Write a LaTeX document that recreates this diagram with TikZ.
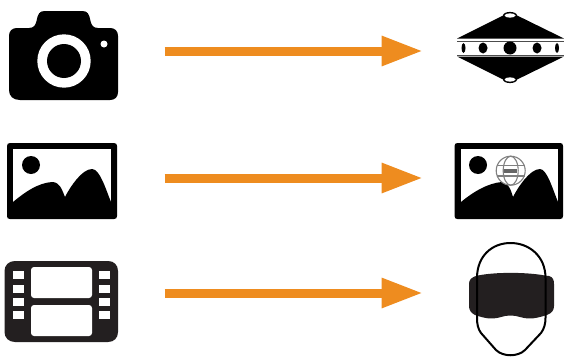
\documentclass[tikz,border=0pt]{standalone}
\usetikzlibrary{arrows.meta}
\definecolor{arrowc}{RGB}{238,140,31}
\definecolor{filmc}{RGB}{35,31,32}
\tikzset{
  flow/.style={draw=arrowc,line width=9pt,-{Triangle[length=41.5pt,width=28pt,fill=arrowc]}},
  ink/.style={fill=black,draw=none},
  paper/.style={fill=white,draw=none},
  perf/.style={fill=white,draw=none},
  globeline/.style={draw=black!50,line width=1.1pt}
}
\begin{document}
\begin{tikzpicture}[x=1pt,y=-1pt]
\useasboundingbox (0,0) rectangle (564,356);
% arrows
\coordinate (a1) at (164.5,51); \coordinate (b1) at (423,51);
\coordinate (a2) at (164.5,178); \coordinate (b2) at (423,178);
\coordinate (a3) at (164.5,293); \coordinate (b3) at (423,293);
\draw[flow] (a1) -- (b1);
\draw[flow] (a2) -- (b2);
\draw[flow] (a3) -- (b3);
% camera
\path[ink] (17,28) -- (29,28) .. controls (34,28) and (35.5,25) .. (36.5,21) .. controls (38,14) and (39,11) .. (45,11)
  -- (82,11) .. controls (88,11) and (89,14) .. (90.5,21) .. controls (91.5,25) and (93,28) .. (98,28) -- (110,28)
  .. controls (115,28) and (118,31) .. (118,36) -- (118,92) .. controls (118,97) and (115,100) .. (110,100)
  -- (20,100) .. controls (13,100) and (9,96) .. (9,90) -- (9,36) .. controls (9,31) and (12,28) .. (17,28) -- cycle;
\path[paper] (64,61) circle (26.7);
\path[ink] (64,61) circle (17);
\path[paper] (104,44) circle (3.5);
% saucer
\path[ink] (510,12) -- (564,38.5) -- (457,38.5) -- cycle;
\path[ink] (510,83) -- (564,56.5) -- (457,56.5) -- cycle;
\path[ink] (510,15.5) ellipse (7 and 3.6);
\path[ink] (510,79.5) ellipse (7 and 3.6);
\draw[black!70,line width=.6pt] (457,40.8) -- (564,40.8) (457,55) -- (564,55);
\path[paper] (510,15.5) ellipse (5.5 and 2.2);
\path[paper] (510,79.5) ellipse (5.5 and 2.2);
\path[ink] (463.5,48) ellipse (2 and 5);
\path[ink] (483,48) ellipse (4.5 and 5.5);
\path[ink] (510,48) ellipse (6.5 and 6.5);
\path[ink] (537,48) ellipse (4.5 and 5.5);
\path[ink] (557,48) ellipse (2 and 5);
% picture
\path[ink] (7,146) .. controls (7,144) and (8,143) .. (10,143) -- (114,143) .. controls (116,143) and (117,144) .. (117,146)
  -- (117,216) .. controls (117,218) and (116,219) .. (114,219) -- (10,219) .. controls (8,219) and (7,218) .. (7,216) -- cycle;
\path[paper] (13,149) rectangle (111,202);
\path[ink] (13,202) .. controls (25,192) and (38,183) .. (52,182) .. controls (60,182) and (62,190) .. (65,197)
  .. controls (70,187) and (82,169) .. (92,169) .. controls (100,169) and (106,190) .. (111,202) -- (111,210) -- (13,210) -- cycle;
\path[ink] (31,165) circle (9);
% picture with globe
\path[ink] (454.5,146) .. controls (454.5,144) and (455.5,143) .. (457.5,143) -- (560,143) .. controls (562,143) and (563,144) .. (563,146)
  -- (563,216) .. controls (563,218) and (562,219) .. (560,219) -- (457.5,219) .. controls (455.5,219) and (454.5,218) .. (454.5,216) -- cycle;
\path[paper] (461,149) rectangle (558,202);
\path[ink] (461,202) .. controls (473,192) and (488,183) .. (502,182) .. controls (508,182) and (511,190) .. (513,197)
  .. controls (518,187) and (530,169) .. (540,169) .. controls (547,169) and (553,190) .. (558,202) -- (558,210) -- (461,210) -- cycle;
\path[ink] (478,165) circle (9);
\draw[globeline,fill=white] (510.7,170.7) circle (14.5);
\draw[globeline] (510.7,170.7) ellipse (7.5 and 14.5);
\draw[globeline] (497,165.5) -- (524.5,165.5) (497,176) -- (524.5,176);
\path[fill=black!60] (504,168.5) rectangle (517,173);
% film
\path[fill=filmc] (4.5,271) .. controls (4.5,265) and (9,261) .. (15,261) -- (108,261) .. controls (114,261) and (118,265) .. (118,271)
  -- (118,332) .. controls (118,338) and (114,342) .. (108,342) -- (15,342) .. controls (9,342) and (4.5,338) .. (4.5,332) -- cycle;
\path[paper,rounded corners=3pt] (31,267) rectangle (92,298);
\path[paper,rounded corners=3pt] (31,305) rectangle (92,336);
\foreach \yy in {275,288.5,302,315}{
  \path[perf] (12.7,\yy-4) rectangle (24,\yy+4);
  \path[perf] (99,\yy-4) rectangle (110,\yy+4);
}
% headset
\path[fill=filmc] (478,275.5) .. controls (495,272) and (526,272) .. (545,275.5) -- (549,276) .. controls (553,277) and (554,280) .. (554,284)
  -- (554,306) .. controls (554,310) and (552,313) .. (547,315) .. controls (537,318) and (530,320) .. (520,317)
  .. controls (514,315) and (507,315) .. (501,317) .. controls (491,320) and (484,318) .. (475,315)
  .. controls (471,313) and (469,310) .. (469,306) -- (469,284) .. controls (469,280) and (471,277) .. (478,275.5) -- cycle;
\draw[black,line width=2pt] (510.5,243) .. controls (492,243) and (477,256) .. (477,278)
  -- (477,318) .. controls (477,324) and (478,329) .. (481,333) -- (496,350) .. controls (503,357) and (518,357) .. (525,350)
  -- (541,333) .. controls (544,329) and (545.5,324) .. (545.5,318) -- (545.5,278) .. controls (545.5,256) and (529,243) .. (510.5,243) -- cycle;
\end{tikzpicture}
\end{document}
